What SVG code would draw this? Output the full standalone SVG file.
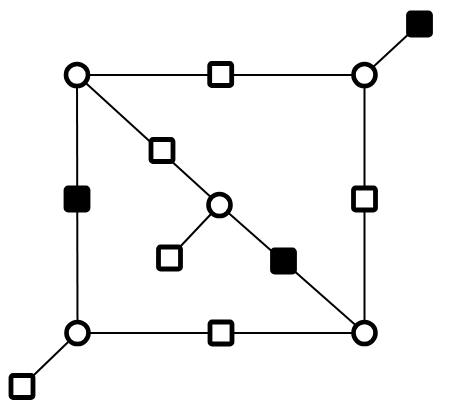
<svg xmlns="http://www.w3.org/2000/svg" width="456" height="414" viewBox="0 0 456 414">
<style>
.e{stroke:#000;stroke-width:2;fill:none}
.c{fill:#fff;stroke:#000;stroke-width:4.6}
.s{fill:#fff;stroke:#000;stroke-width:4.8}
.f{fill:#000;stroke:#000;stroke-width:4.8}
</style>
<rect width="456" height="414" fill="#fff"/>
<g id="connectors">
<line class="e" x1="77" y1="75" x2="364.5" y2="75"/>
<line class="e" x1="77" y1="75" x2="77.5" y2="333"/>
<line class="e" x1="364.5" y1="75" x2="364.5" y2="333"/>
<line class="e" x1="77.5" y1="333" x2="364.5" y2="333"/>
<line class="e" x1="77" y1="75" x2="219.5" y2="205"/>
<line class="e" x1="219.5" y1="205" x2="364.5" y2="333"/>
<line class="e" x1="219.5" y1="205" x2="169.5" y2="258"/>
<line class="e" x1="77.5" y1="333" x2="22" y2="386.5"/>
<line class="e" x1="364.5" y1="75" x2="419.5" y2="24"/>
</g>
<g id="n1"><circle class="c" cx="77" cy="75" r="11"/></g>
<g id="n2"><circle class="c" cx="364.5" cy="75" r="11"/></g>
<g id="n3"><circle class="c" cx="77.5" cy="333" r="11"/></g>
<g id="n4"><circle class="c" cx="364.5" cy="333" r="11"/></g>
<g id="n5"><circle class="c" cx="219.5" cy="205" r="11"/></g>
<g id="s1"><rect class="s" x="209.7" y="63.5" width="22" height="22" rx="2"/></g>
<g id="s2"><rect class="s" x="151" y="139.5" width="22" height="22" rx="2"/></g>
<g id="s3"><rect class="f" x="66" y="188" width="22" height="22" rx="2"/></g>
<g id="s4"><rect class="s" x="353.5" y="188" width="22" height="22" rx="2"/></g>
<g id="s5"><rect class="s" x="158.5" y="247" width="22" height="22" rx="2"/></g>
<g id="s6"><rect class="f" x="272.5" y="250" width="22" height="22" rx="2"/></g>
<g id="s7"><rect class="s" x="210" y="322" width="22" height="22" rx="2"/></g>
<g id="s8"><rect class="s" x="11" y="375.5" width="22" height="22" rx="2"/></g>
<g id="s9"><rect class="f" x="408.5" y="13" width="22" height="22" rx="2"/></g>
</svg>
